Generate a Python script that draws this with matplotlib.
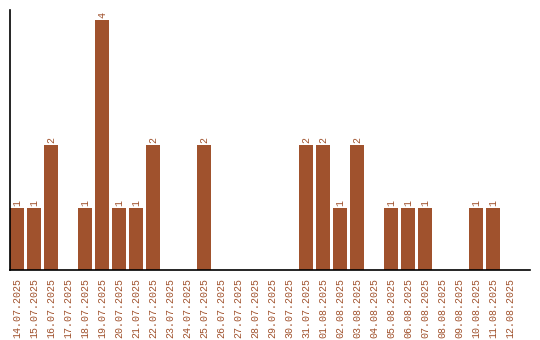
import matplotlib.pyplot as plt
import numpy as np

# Daily counts
dates = ['14.07.2025', '15.07.2025', '16.07.2025', '17.07.2025', '18.07.2025',
         '19.07.2025', '20.07.2025', '21.07.2025', '22.07.2025', '23.07.2025',
         '24.07.2025', '25.07.2025', '26.07.2025', '27.07.2025', '28.07.2025',
         '29.07.2025', '30.07.2025', '31.07.2025', '01.08.2025', '02.08.2025',
         '03.08.2025', '04.08.2025', '05.08.2025', '06.08.2025', '07.08.2025',
         '08.08.2025', '09.08.2025', '10.08.2025', '11.08.2025', '12.08.2025']
counts = [1, 1, 2, 0, 1, 4, 1, 1, 2, 0,
          0, 2, 0, 0, 0, 0, 0, 2, 2, 1,
          2, 0, 1, 1, 1, 0, 0, 1, 1, 0]

color = '#A0522D'
plt.rcParams['font.family'] = ['Liberation Mono', 'DejaVu Sans Mono']

fig = plt.figure(figsize=(5.4, 3.4), dpi=100)
ax = fig.add_axes([10 / 540, 70 / 340, 520 / 540, 260 / 340])

x = np.arange(len(dates))
bars = ax.bar(x, counts, width=0.82, color=color)

for xi, v in zip(x, counts):
    if v > 0:
        ax.text(xi, v + 0.03, str(v), rotation=90, ha='center', va='bottom',
                fontsize=7.2, color=color)

ax.set_xlim(-0.41, 30.18)
ax.set_ylim(0, 4.16)
ax.set_xticks(x)
ax.set_xticklabels(dates, rotation=90, fontsize=7.2, color=color)
ax.tick_params(axis='x', length=0, pad=6)
ax.set_yticks([])
ax.spines['top'].set_visible(False)
ax.spines['right'].set_visible(False)
ax.spines['left'].set_linewidth(1.2)
ax.spines['bottom'].set_linewidth(1.2)

fig.savefig('out.png', dpi=100, facecolor='white')
